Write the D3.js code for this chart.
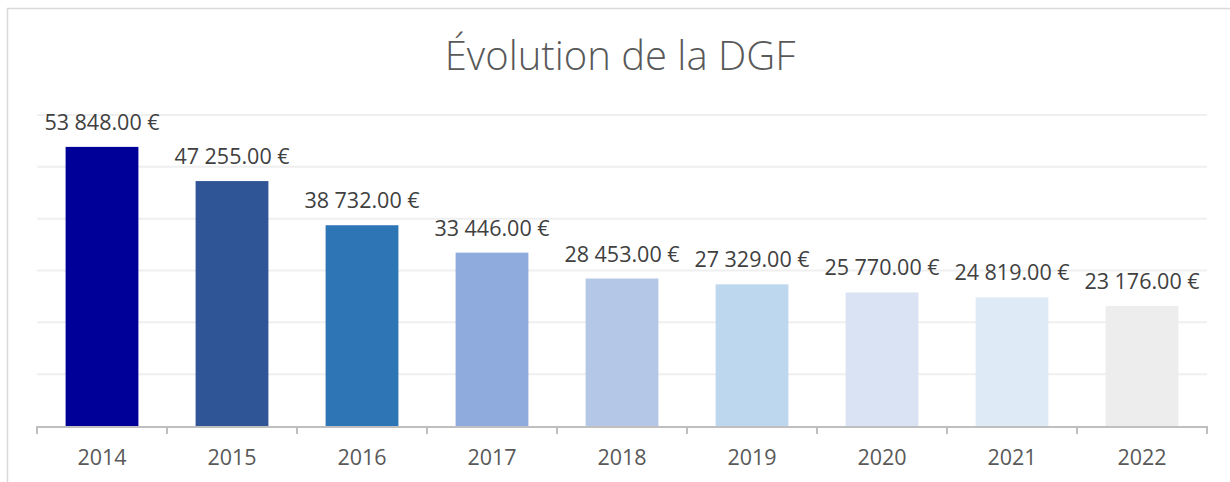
<!DOCTYPE html>
<html>
<head>
<meta charset="utf-8">
<script src="https://cdn.jsdelivr.net/npm/d3@7"></script>
<style>
  body { margin: 0; background: #fff; }
  text { font-family: "Open Sans", sans-serif; }
</style>
</head>
<body>
<div id="chart"></div>
<script>
const years = ["2014", "2015", "2016", "2017", "2018", "2019", "2020", "2021", "2022"];
const dgf = [53848, 47255, 38732, 33446, 28453, 27329, 25770, 24819, 23176];
const barColors = ["#000099", "#2F5597", "#2E75B6", "#8FAADC", "#B4C7E7", "#BDD7EE", "#DAE3F3", "#DEEBF7", "#EDEDED"];
const yTicks = [0, 10000, 20000, 30000, 40000, 50000, 60000];

const outerWidth = 1230;
const outerHeight = 482;
const margin = { top: 115, right: 23, bottom: 56, left: 37 };
const width = outerWidth - margin.left - margin.right;
const height = outerHeight - margin.top - margin.bottom;

const svg = d3.select("#chart").append("svg")
	.attr("width", outerWidth)
	.attr("height", outerHeight);

// chart frame
svg.append("rect")
	.attr("x", 7.5)
	.attr("y", 8.5)
	.attr("width", 1240)
	.attr("height", 500)
	.attr("fill", "none")
	.attr("stroke", "#d9d9d9")
	.attr("stroke-width", 1.5);

svg.append("text")
	.attr("x", 620)
	.attr("y", 70)
	.attr("text-anchor", "middle")
	.attr("fill", "#595959")
	.style("font-size", "40px")
	.style("font-weight", 300)
	.text("Évolution de la DGF");

const g = svg.append("g")
	.attr("transform", `translate(${margin.left}, ${margin.top})`);

const x = d3.scaleBand()
	.domain(years)
	.range([0, width])
	.paddingInner(0.44)
	.paddingOuter(0.22);

const y = d3.scaleLinear()
	.domain([0, 60000])
	.range([height, 0]);

// gridlines
g.selectAll(".grid")
	.data(yTicks.slice(1))
	.enter()
	.append("line")
	.attr("class", "grid")
	.attr("x1", 0)
	.attr("x2", width)
	.attr("y1", d => y(d))
	.attr("y2", d => y(d))
	.attr("stroke", "#efefef")
	.attr("stroke-width", 2);

g.selectAll(".bar")
	.data(dgf)
	.enter()
	.append("rect")
	.attr("class", "bar")
	.attr("x", (d, i) => x(years[i]))
	.attr("y", d => y(d))
	.attr("width", x.bandwidth())
	.attr("height", d => height - y(d))
	.attr("fill", (d, i) => barColors[i]);

const fmt = v => d3.format(",.2f")(v).replace(/,/g, " ") + " €";

g.selectAll(".label")
	.data(dgf)
	.enter()
	.append("text")
	.attr("class", "label")
	.attr("x", (d, i) => x(years[i]) + x.bandwidth() / 2)
	.attr("y", d => y(d) - 17)
	.attr("text-anchor", "middle")
	.attr("fill", "#404040")
	.style("font-size", "21.5px")
	.text(fmt);

// x axis with ticks at category boundaries
const axisG = g.append("g")
	.attr("transform", `translate(0, ${height})`);

axisG.append("line")
	.attr("x1", 0)
	.attr("x2", width)
	.attr("y1", 1)
	.attr("y2", 1)
	.attr("stroke", "#bfbfbf")
	.attr("stroke-width", 2);

const step = x.step();
axisG.selectAll(".tick")
	.data(d3.range(years.length + 1))
	.enter()
	.append("line")
	.attr("x1", i => i * step)
	.attr("x2", i => i * step)
	.attr("y1", 0)
	.attr("y2", 8)
	.attr("stroke", "#bfbfbf")
	.attr("stroke-width", 2);

axisG.selectAll(".ylabel")
	.data(years)
	.enter()
	.append("text")
	.attr("x", d => x(d) + x.bandwidth() / 2)
	.attr("y", 39)
	.attr("text-anchor", "middle")
	.attr("fill", "#595959")
	.style("font-size", "21.5px")
	.text(d => d);
</script>
</body>
</html>
